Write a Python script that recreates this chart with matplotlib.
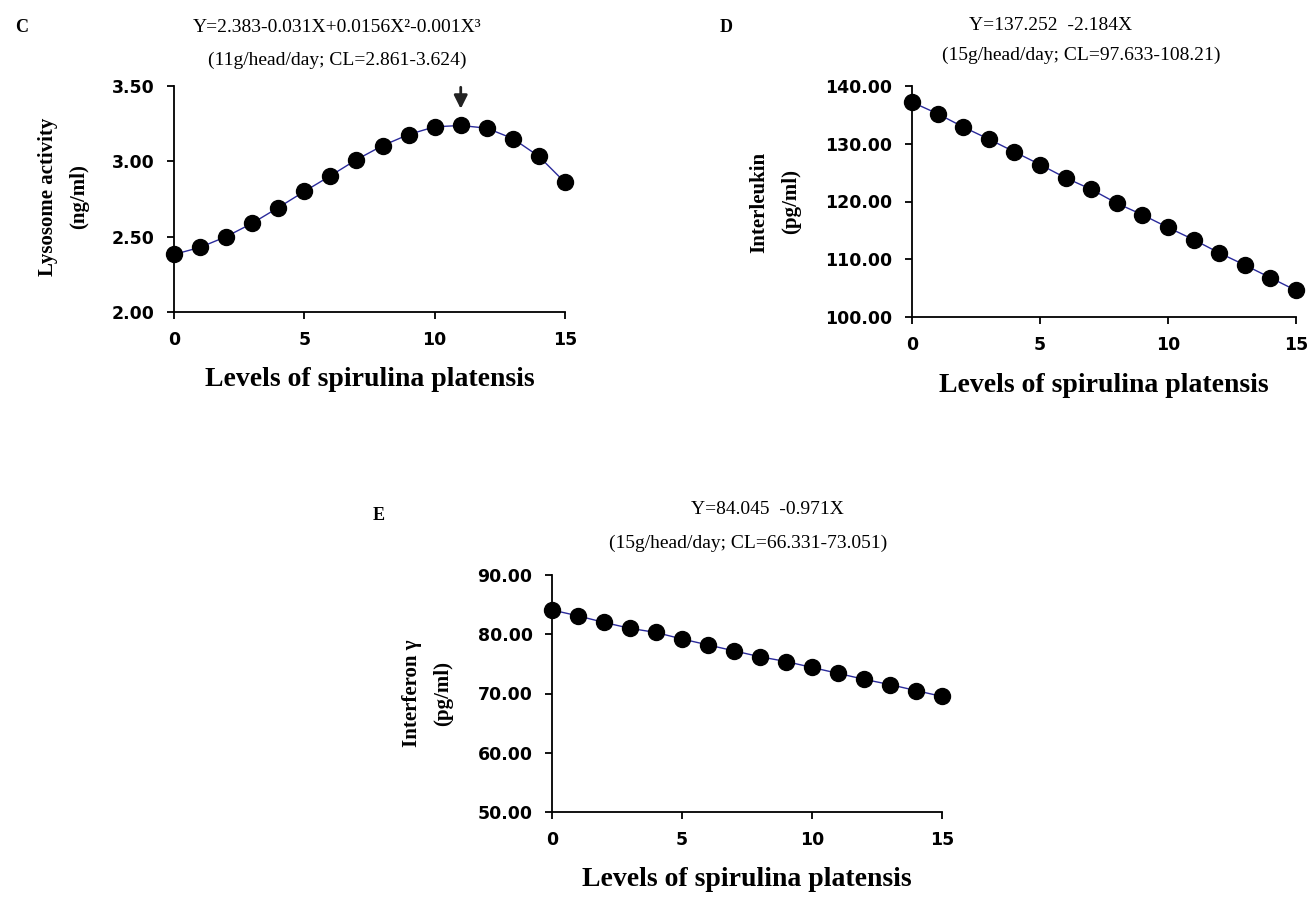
import matplotlib
matplotlib.use("Agg")
from matplotlib import pyplot as plt
from matplotlib.ticker import FormatStrFormatter

W, H = 1310, 898

levels = list(range(16))

lysozyme = [2.382, 2.429, 2.500, 2.589, 2.693, 2.800, 2.904, 3.011,
            3.104, 3.178, 3.229, 3.238, 3.220, 3.151, 3.033, 2.860]
interleukin = [137.2, 135.2, 132.9, 130.8, 128.6, 126.4, 124.1, 122.1,
               119.7, 117.7, 115.5, 113.4, 111.1, 109.0, 106.8, 104.6]
interferon = [84.1, 83.1, 82.0, 81.0, 80.3, 79.2, 78.2, 77.2,
              76.2, 75.4, 74.4, 73.4, 72.4, 71.5, 70.5, 69.5]

serif = "Liberation Serif"
sans = "DejaVu Sans"


def px_axes(fig, left, right, top, bottom):
    return fig.add_axes([left / W, 1 - bottom / H, (right - left) / W, (bottom - top) / H])


def ftext(x, y, s, **kw):
    fig.text(x / W, 1 - y / H, s, ha=kw.pop("ha", "center"), va="center",
             fontfamily=serif, **kw)


def draw_panel(ax, y, ylim, yticks):
    ax.plot(levels, y, color="#2a2a9a", lw=1.0, zorder=2)
    ax.plot(levels, y, "o", color="black", ms=11.5, zorder=3, clip_on=False)
    ax.set_xlim(0, 15)
    ax.set_ylim(*ylim)
    ax.set_xticks([0, 5, 10, 15])
    ax.set_yticks(yticks)
    ax.yaxis.set_major_formatter(FormatStrFormatter("%.2f"))
    for s in ["top", "right"]:
        ax.spines[s].set_visible(False)
    for s in ["left", "bottom"]:
        ax.spines[s].set_linewidth(1.3)
    ax.tick_params(direction="out", length=5, width=1.3, pad=9)
    for lab in ax.get_xticklabels() + ax.get_yticklabels():
        lab.set_fontfamily(sans)
        lab.set_fontweight("bold")
        lab.set_fontsize(12.5)
    ax.set_xlabel("Levels of spirulina platensis", fontfamily=serif,
                  fontweight="bold", fontsize=20, labelpad=13)


fig = plt.figure(figsize=(W / 100, H / 100), dpi=100)

# panel C
axc = px_axes(fig, 174, 565, 86, 312)
draw_panel(axc, lysozyme, (2.0, 3.5), [2.0, 2.5, 3.0, 3.5])
axc.annotate("", xy=(11, 3.33), xytext=(11, 3.51),
             arrowprops=dict(arrowstyle="-|>", color="#222222", lw=2, mutation_scale=20),
             annotation_clip=False)
ftext(64, 197, "Lysosome activity\n(ng/ml)", rotation=90, fontsize=15,
      fontweight="bold", linespacing=1.75)

# panel D
axd = px_axes(fig, 912, 1296, 86, 317)
draw_panel(axd, interleukin, (100, 140), [100, 110, 120, 130, 140])
ftext(775, 202, "Interleukin\n(pg/ml)", rotation=90, fontsize=15,
      fontweight="bold", linespacing=1.75)

# panel E
axe = px_axes(fig, 552, 942, 575, 812)
draw_panel(axe, interferon, (50, 90), [50, 60, 70, 80, 90])
ftext(428, 693, "Interferon γ\n(pg/ml)", rotation=90, fontsize=15,
      fontweight="bold", linespacing=1.75)

ftext(15, 27, "C", ha="left", fontsize=13, fontweight="bold")
ftext(337, 27, "Y=2.383-0.031X+0.0156X²-0.001X³", fontsize=14)
ftext(337, 60, "(11g/head/day; CL=2.861-3.624)", fontsize=14)

ftext(720, 27, "D", ha="left", fontsize=13, fontweight="bold")
ftext(1051, 25, "Y=137.252  -2.184X", fontsize=14)
ftext(1081, 55, "(15g/head/day; CL=97.633-108.21)", fontsize=14)

ftext(373, 515, "E", ha="left", fontsize=13, fontweight="bold")
ftext(767, 510, "Y=84.045  -0.971X", fontsize=14)
ftext(748, 543, "(15g/head/day; CL=66.331-73.051)", fontsize=14)

fig.savefig("out.png", dpi=100)
